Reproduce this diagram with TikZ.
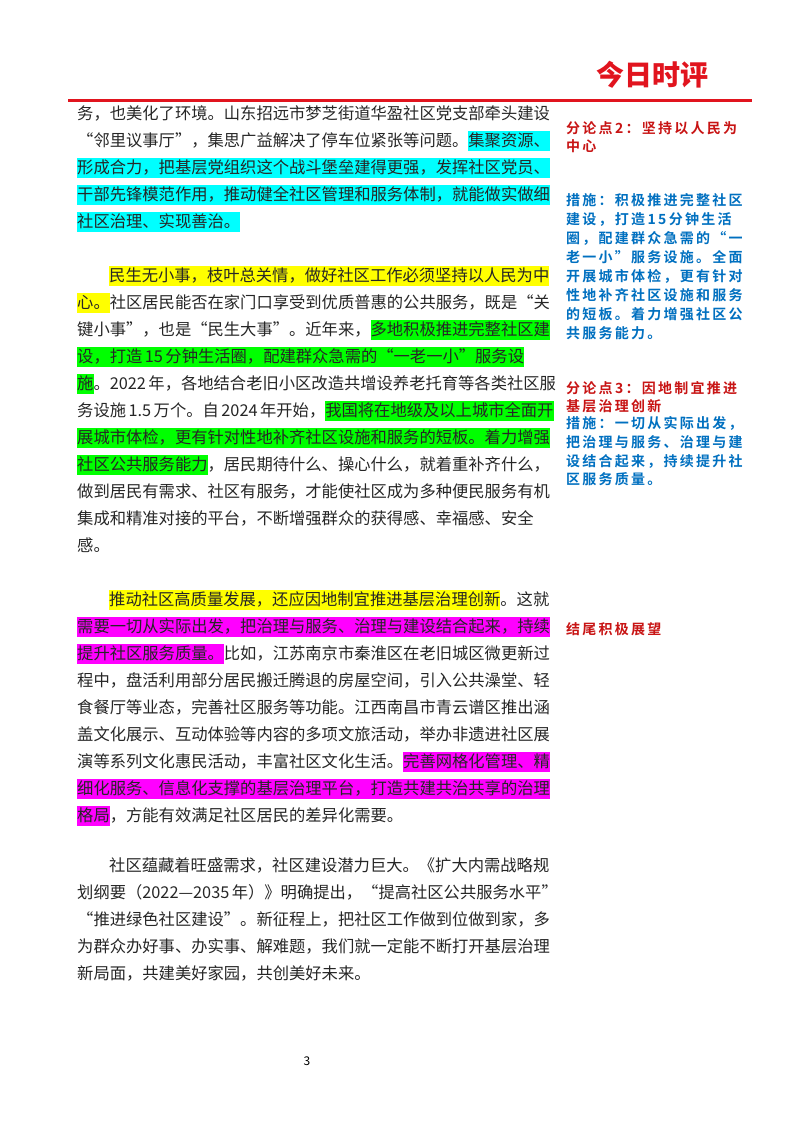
\documentclass[tikz,border=0pt]{standalone}
\usepackage{fontspec}
\setmainfont{Noto Sans CJK SC}
\newfontfamily\sidefont[LetterSpace=16]{Noto Sans CJK SC Bold}
\definecolor{sred}{RGB}{200,20,20}
\definecolor{sblue}{RGB}{0,112,192}
\definecolor{hcy}{RGB}{0,255,255}
\definecolor{hye}{RGB}{255,255,0}
\definecolor{hgr}{RGB}{0,255,0}
\definecolor{hma}{RGB}{255,0,255}
\definecolor{logored}{RGB}{225,20,30}
\newcommand\hlc[2]{{\setlength\fboxsep{0pt}\colorbox{#1}{\rule[-4.8pt]{0pt}{19.5pt}#2}}}
\newcommand\hlfull[2]{{\setlength\fboxsep{0pt}\colorbox{#1}{\rule[-4.8pt]{0pt}{19.5pt}#2}}}
\newcommand\gsp{\kern2.5pt}
\begin{document}
\begin{tikzpicture}[x=1pt,y=-1pt,
  ln/.style={anchor=base west,inner sep=0pt,font=\fontsize{16.3}{20}\selectfont,text=black!85},
  sr/.style={anchor=base west,inner sep=0pt,font=\fontsize{14}{18}\sidefont,text=sred},
  sb/.style={anchor=base west,inner sep=0pt,font=\fontsize{14}{18}\sidefont,text=sblue}]
\useasboundingbox (0,0) rectangle (800,1132);
\fill[white] (0,0) rectangle (800,1132);
% header
\node[inner sep=0pt,font=\fontsize{28}{30}\selectfont\bfseries,text=logored] (logo) at (652,75) {今日时评};
\coordinate (ra) at (68,100); \coordinate (rb) at (752,100);
\draw[logored,line width=3pt] (ra) -- (rb);
% paragraph 1
\def\Y#1{113+27*#1+6}
\node[ln] (p1a) at (77,{\Y{0}}) {务，也美化了环境。山东招远市梦芝街道华盈社区党支部牵头建设};
\node[ln] (p1b) at (77,{\Y{1}}) {“邻里议事厅”，集思广益解决了停车位紧张等问题。\hlc{hcy}{集聚资源、}};
\node[ln] (p1c) at (77,{\Y{2}}) {\hlfull{hcy}{形成合力，把基层党组织这个战斗堡垒建得更强，发挥社区党员、}};
\node[ln] (p1d) at (77,{\Y{3}}) {\hlfull{hcy}{干部先锋模范作用，推动健全社区管理和服务体制，就能做实做细}};
\node[ln] (p1e) at (77,{\Y{4}}) {\hlc{hcy}{社区治理、实现善治。}};
% paragraph 2
\node[ln] (p2a) at (109,{\Y{6}}) {\hlc{hye}{民生无小事，枝叶总关情，做好社区工作必须坚持以人民为中}};
\node[ln] (p2b) at (77,{\Y{7}}) {\hlc{hye}{心。}社区居民能否在家门口享受到优质普惠的公共服务，既是“关};
\node[ln] (p2c) at (77,{\Y{8}}) {键小事”，也是“民生大事”。近年来，\hlc{hgr}{多地积极推进完整社区建}};
\node[ln] (p2d) at (77,{\Y{9}}) {\hlfull{hgr}{设，打造\gsp 15\gsp 分钟生活圈，配建群众急需的“一老一小”服务设}};
\node[ln] (p2e) at (77,{\Y{10}}) {\hlc{hgr}{施}。2022\gsp 年，各地结合老旧小区改造共增设养老托育等各类社区服};
\node[ln] (p2f) at (77,{\Y{11}}) {务设施\gsp 1.5\gsp 万个。自\gsp 2024\gsp 年开始，\hlc{hgr}{我国将在地级及以上城市全面开}};
\node[ln] (p2g) at (77,{\Y{12}}) {\hlfull{hgr}{展城市体检，更有针对性地补齐社区设施和服务的短板。着力增强}};
\node[ln] (p2h) at (77,{\Y{13}}) {\hlc{hgr}{社区公共服务能力}，居民期待什么、操心什么，就着重补齐什么，};
\node[ln] (p2i) at (77,{\Y{14}}) {做到居民有需求、社区有服务，才能使社区成为多种便民服务有机};
\node[ln] (p2j) at (77,{\Y{15}}) {集成和精准对接的平台，不断增强群众的获得感、幸福感、安全};
\node[ln] (p2k) at (77,{\Y{16}}) {感。};
% paragraph 3
\node[ln] (p3a) at (109,{\Y{18}}) {\hlc{hye}{推动社区高质量发展，还应因地制宜推进基层治理创新}。这就};
\node[ln] (p3b) at (77,{\Y{19}}) {\hlfull{hma}{需要一切从实际出发，把治理与服务、治理与建设结合起来，持续}};
\node[ln] (p3c) at (77,{\Y{20}}) {\hlc{hma}{提升社区服务质量。}比如，江苏南京市秦淮区在老旧城区微更新过};
\node[ln] (p3d) at (77,{\Y{21}}) {程中，盘活利用部分居民搬迁腾退的房屋空间，引入公共澡堂、轻};
\node[ln] (p3e) at (77,{\Y{22}}) {食餐厅等业态，完善社区服务等功能。江西南昌市青云谱区推出涵};
\node[ln] (p3f) at (77,{\Y{23}}) {盖文化展示、互动体验等内容的多项文旅活动，举办非遗进社区展};
\node[ln] (p3g) at (77,{\Y{24}}) {演等系列文化惠民活动，丰富社区文化生活。\hlc{hma}{完善网格化管理、精}};
\node[ln] (p3h) at (77,{\Y{25}}) {\hlfull{hma}{细化服务、信息化支撑的基层治理平台，打造共建共治共享的治理}};
\node[ln] (p3i) at (77,{\Y{26}}) {\hlc{hma}{格局}，方能有效满足社区居民的差异化需要。};
% paragraph 4
\def\Z#1{865+27*#1+6}
\node[ln] (p4a) at (109,{\Z{0}}) {社区蕴藏着旺盛需求，社区建设潜力巨大。《扩大内需战略规};
\node[ln] (p4b) at (77,{\Z{1}}) {划纲要（2022—2035\gsp 年）》明确提出，“提高社区公共服务水平”};
\node[ln] (p4c) at (77,{\Z{2}}) {“推进绿色社区建设”。新征程上，把社区工作做到位做到家，多};
\node[ln] (p4d) at (77,{\Z{3}}) {为群众办好事、办实事、解难题，我们就一定能不断打开基层治理};
\node[ln] (p4e) at (77,{\Z{4}}) {新局面，共建美好家园，共创美好未来。};
\node[anchor=base,inner sep=0pt,font=\fontsize{12}{14}\selectfont] (pg) at (307,1065) {3};
% side column
\node[sr] (s1a) at (566,133) {分论点\gsp 2：坚持以人民为};
\node[sr] (s1b) at (566,151) {中心};
\node[sb] (s2a) at (566,205) {措施：积极推进完整社区};
\node[sb] (s2b) at (566,224) {建设，打造\gsp 15\gsp 分钟生活};
\node[sb] (s2c) at (566,243) {圈，配建群众急需的“一};
\node[sb] (s2d) at (566,262) {老一小”服务设施。全面};
\node[sb] (s2e) at (566,281) {开展城市体检，更有针对};
\node[sb] (s2f) at (566,300) {性地补齐社区设施和服务};
\node[sb] (s2g) at (566,319) {的短板。着力增强社区公};
\node[sb] (s2h) at (566,338) {共服务能力。};
\node[sr] (s3a) at (566,393) {分论点\gsp 3：因地制宜推进};
\node[sr] (s3b) at (566,411) {基层治理创新};
\node[sb] (s4a) at (566,428) {措施：一切从实际出发，};
\node[sb] (s4b) at (566,447) {把治理与服务、治理与建};
\node[sb] (s4c) at (566,466) {设结合起来，持续提升社};
\node[sb] (s4d) at (566,484) {区服务质量。};
\node[sr] (s5) at (566,634) {结尾积极展望};
\end{tikzpicture}
\end{document}
